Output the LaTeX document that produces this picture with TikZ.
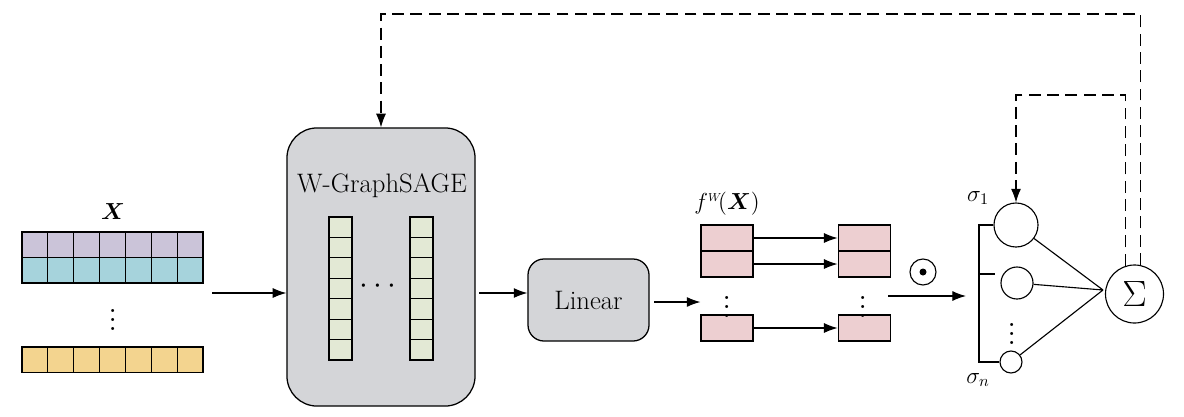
\RequirePackage{fix-cm}
\documentclass[tikz,border=0pt]{standalone}
\usepackage{amsmath,amssymb}
\usepackage{bm}
\usetikzlibrary{positioning,arrows.meta}
\definecolor{rowA}{RGB}{203,196,217}
\definecolor{rowB}{RGB}{166,211,220}
\definecolor{rowC}{RGB}{243,212,143}
\definecolor{cellG}{RGB}{227,233,213}
\definecolor{cellP}{RGB}{237,207,209}
\definecolor{boxG}{RGB}{212,213,216}
\tikzset{cell/.style={draw,line width=0.8pt},
	 block/.style={draw,fill=boxG,line width=0.9pt,font=\fontsize{19}{22}\selectfont},
	 vec/.style={draw,fill=cellP,line width=0.8pt,minimum width=1.3cm,minimum height=0.65cm,inner sep=0pt},
	 neuron/.style={circle,draw,line width=0.8pt,inner sep=0pt},
	 dots/.style={inner sep=0pt,scale=1.6},
	 arr/.style={-{Latex[length=3.4mm,width=2.5mm]}},
	 dsh/.style={dash pattern=on 8.5pt off 4.5pt},
	 node distance = 2.1cm
	 }

\begin{document}
\begin{tikzpicture}[x=0.025cm,y=-0.025cm,line width=0.8pt,font=\fontsize{16.5}{19}\selectfont]
        \useasboundingbox (0,0) rectangle (1184,416);
        % input X
        \node (xlab) at (113,212) {$\bm{X}$};
        \foreach \y/\c in {232/rowA,257.5/rowB,347/rowC}
          \foreach \i in {0,...,6}
            \draw[cell,fill=\c] ({22+\i*25.86},\y) rectangle ++(25.86,25.5);
        \node[dots] (xdots) at (113,313) {$\vdots$};
        \coordinate (xr) at (212,293);
        % W-GraphSAGE
        \node[block,rounded corners=0.75cm,minimum width=4.7cm,minimum height=6.95cm] (sage) at (381,267) {};
        \node[font=\fontsize{19}{22}\selectfont] (title) at (382,186) {W-GraphSAGE};
        \foreach \cx in {329,410}
          \foreach \i in {0,...,6}
            \draw[cell,fill=cellG] (\cx,{217+\i*20.43}) rectangle ++(23,20.43);
        \node[dots,scale=0.85] (hdots) at (381,286) {$\cdots$};
        \coordinate (sr) at (479,293);
        % Linear
        \node[block,rounded corners=0.4cm,minimum width=3.025cm,minimum height=2.05cm] (lin) at (588.5,300) {Linear};
        \coordinate (lr) at (654,302);
        % f^W(X)
        \node[vec] (fa1) at (727,238) {};
        \node[vec] (fa2) [below=-0.8pt of fa1] {};
        \node[vec] (fan) at (727,328) {};
        \node[vec] (fb1) [right=of fa1] {};
        \node[vec] (fb2) [below=-0.8pt of fb1] {};
        \node[vec] (fbn) [right=of fan] {};
        \node (flab) at (727,204) {$f^{\scriptscriptstyle W}\!(\bm{X})$};
        \node[dots] (fadots) at (727,300) {$\vdots$};
        \node[dots] (fbdots) at (863,300) {$\vdots$};
        \draw[arr] (fa1) to (fb1);
        \draw[arr] (fa2) to (fb2);
        \draw[arr] (fan) to (fbn);
        \draw[arr] (lr) -- (lr -| fa1.west);
        \draw[arr] (xr) -- (xr -| sage.west);
        \draw[arr] (sr) -- (sr -| lin.west);
        % odot and neurons
        \node[neuron,minimum size=0.65cm] (od) at (923,272) {};
        \fill (od) circle (3.5);
        \coordinate (fr) at (888,296);
        \coordinate (bin) at (966,296);
        \draw[arr] (fr) -- (bin);
        \node[neuron,minimum size=1.1cm] (c1) at (1016,225) {};
        \node[neuron,minimum size=0.8cm] (c2) at (1017,283) {};
        \node[neuron,minimum size=0.55cm] (cn) at (1011,362) {};
        \node[dots] (cdots) at (1012,327) {$\vdots$};
        \node (s1) at (978,198) {$\sigma_1$};
        \node (sn) at (978,380) {$\sigma_n$};
        \coordinate (bt) at (979,225);
        \coordinate (bm) at (979,274);
        \coordinate (bb) at (979,362);
        \draw (c1.west) -- (bt) -- (bb) -- (cn.west);
        \draw (bm) -- ++(16,0);
        \coordinate (j) at (1103,290);
        \draw (c1) to (j) (c2) to (j) (cn) to (j);
        \node[neuron,minimum size=1.45cm] (sg) at (1134.5,294) {\fontsize{26}{28}\selectfont$\Sigma$};
        % feedback
        \coordinate (d1) at (1016,95);
        \coordinate (d2) at (381,14);
        \draw[dsh,arr] (sg.107) |- (d1) -- (c1.north);
        \draw[dsh,arr] (sg.79) |- (d2) -- (sage.north);
\end{tikzpicture}
\end{document}
